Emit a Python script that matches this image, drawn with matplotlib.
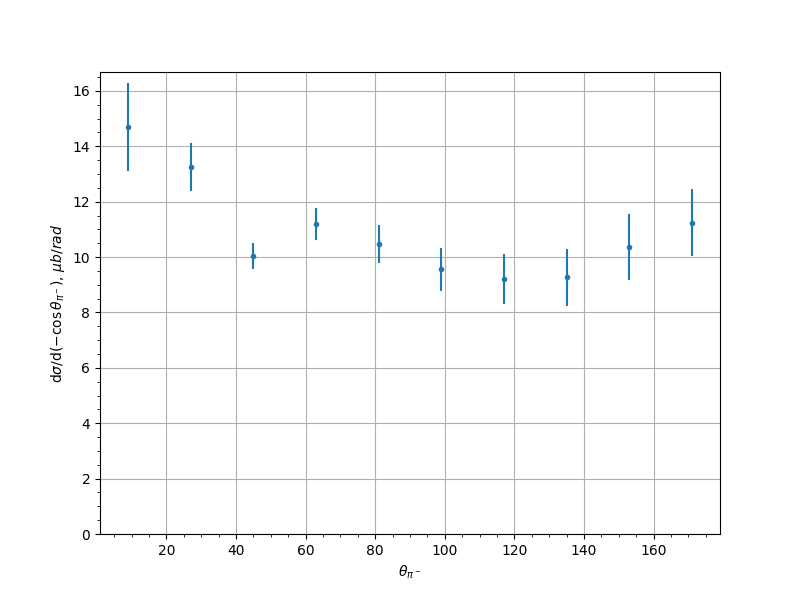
import matplotlib
matplotlib.use('Agg')
from matplotlib import pyplot as plt
import numpy as np

theta = np.array([9, 27, 45, 63, 81, 99, 117, 135, 153, 171])
dsigma = np.array([14.70, 13.25, 10.04, 11.20, 10.47, 9.56, 9.21, 9.27, 10.36, 11.24])
dsigma_err = np.array([1.58, 0.85, 0.47, 0.57, 0.68, 0.77, 0.90, 1.02, 1.20, 1.22])

plt.figure(figsize=(8, 6), dpi=100)
plt.errorbar(theta, dsigma, yerr=dsigma_err, fmt='.')
plt.ylim(bottom=0)
plt.minorticks_on()
plt.grid(which='major', axis='both')
plt.xlabel(r'$\theta_{\pi^-}$')
plt.ylabel(r'd$\sigma$/d$(-\cos\theta_{\pi^-})$, $\mu b/rad$')

plt.savefig('out.png')
